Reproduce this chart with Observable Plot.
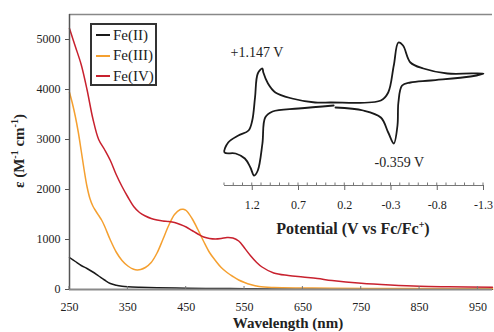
<!DOCTYPE html>
<html><head><meta charset="utf-8">
<script src="https://cdn.jsdelivr.net/npm/d3@7"></script>
<script src="https://cdn.jsdelivr.net/npm/@observablehq/plot@0.6"></script>
<style>
body{margin:0;background:#fff;}
#wrap{position:relative;width:494px;height:332px;overflow:hidden;font-family:"Liberation Serif",serif;background:#fff;}
#main{position:absolute;left:0;top:0;}
#inset{position:absolute;left:200px;top:20px;}
#legend{position:absolute;left:90px;top:23px;width:63px;height:59px;border:2px solid #333;background:#fff;}
.row{position:absolute;left:4px;height:18px;display:flex;align-items:center;font-size:15px;color:#222;white-space:nowrap;}
.sw{width:14px;height:2px;margin-right:3px;}
</style></head>
<body><div id="wrap"><div id="main"></div><div id="legend"></div><div id="inset"></div></div>
<script>
// ---- data ----
const series = ["Fe(II)", "Fe(III)", "Fe(IV)"];
const colors = ["#1a1a1a", "#f5a030", "#c8212e"];

const feIIWl  = [250,260,270,280,290,300,310,320,330,340,350,370,400,450,500,550,600,700,800,900,975];
const feIIEps = [640,560,480,420,350,270,190,120,85,65,55,45,35,25,20,15,10,8,6,5,5];

const feIIIWl  = [250,255,260,265,270,275,280,285,290,295,300,305,310,320,330,340,350,360,366,372,380,390,400,410,420,430,440,445,450,460,470,480,490,500,510,520,530,540,550,560,575,600,650,700,800,900,975];
const feIIIEps = [3940,3720,3460,3150,2780,2400,2060,1820,1670,1570,1480,1390,1270,990,750,580,470,405,392,400,440,540,730,1000,1280,1500,1600,1605,1580,1420,1200,960,740,580,440,340,260,190,140,100,60,40,30,25,20,15,15];

const feIVWl  = [250,260,270,280,290,300,310,320,330,340,350,360,370,380,390,400,410,420,430,440,450,460,470,480,490,500,510,520,530,540,550,560,570,580,600,625,650,675,700,750,800,850,900,975];
const feIVEps = [5220,4860,4500,4000,3420,3000,2800,2580,2300,2060,1850,1660,1540,1470,1420,1390,1370,1360,1340,1300,1250,1180,1110,1050,1020,1010,1020,1040,1030,970,830,680,550,450,330,280,250,220,180,125,90,65,55,45];

const xTicks = [250,350,450,550,650,750,850,950];
const yTicks = [0,1000,2000,3000,4000,5000];

// cyclic voltammogram (potential V, current arb. units)
const cvE = [0.30,0.00,-0.19,-0.27,-0.33,-0.37,-0.38,-0.42,-0.51,-0.73,-1.16,-1.30,
             -0.91,-0.65,-0.51,-0.43,-0.38,-0.33,-0.27,-0.19,0.36,0.52,0.77,0.95,1.03,1.08,1.09,1.14,1.17,1.20,1.24,1.35,1.46,1.50,
             1.38,1.28,1.22,1.18,1.14,1.09,1.06,0.98,0.70,0.32];
const cvI = [-0.4,-1.0,-2.4,-5.4,-7.6,-4.0,0.6,4.0,4.6,5.0,5.8,6.4,
             6.4,7.4,8.6,12.0,12.6,8.0,2.6,1.0,0.6,0.6,1.4,2.6,4.4,6.6,7.4,6.4,1.6,-3.0,-5.0,-6.0,-7.4,-9.4,
             -9.6,-10.6,-12.4,-14.0,-13.0,-7.6,-2.4,-1.2,-0.6,0.0];
const cvTicks = [1.2,0.7,0.2,-0.3,-0.8,-1.3];
const cvMinor = d3.range(15,-14,-1).map(d=>d/10);
const peakLabel = ["+1.147 V","-0.359 V"];
const labelE = [1.15,-0.39];
const labelI = [10.6,-11.4];

// ---- tables ----
const spectra = [];
[[feIIWl,feIIEps],[feIIIWl,feIIIEps],[feIVWl,feIVEps]].forEach(([w,e],k)=>
  w.forEach((x,j)=>spectra.push({wl:x, eps:e[j], s:series[k]})));
const cv = cvE.map((E,j)=>({E, i:cvI[j]}));
const labels = peakLabel.map((t,j)=>({t, E:labelE[j], i:labelI[j]}));

const font = '"Liberation Serif", serif';

// ---- main chart ----
const main = Plot.plot({
  width:494, height:332, marginLeft:69, marginRight:2, marginTop:14, marginBottom:43,
  style:{fontFamily:font, fontSize:"12px", color:"#222", background:"transparent", overflow:"visible"},
  x:{domain:[250,975]}, y:{domain:[0,5500]},
  color:{domain:series, range:colors},
  marks:[
    Plot.ruleY([5500], {stroke:"#888", strokeWidth:1.5}),
    Plot.line(spectra, {x:"wl", y:"eps", z:"s", stroke:"s", strokeWidth:1.5, curve:"catmull-rom"}),
    Plot.ruleY([0], {stroke:"#8a8a8a", strokeWidth:2}),
    Plot.ruleX([250], {stroke:"#555", strokeWidth:1.5}),
    Plot.axisX({ticks:xTicks, tickSize:0, tickPadding:13, label:null, tickFormat:d=>String(d)}),
    Plot.axisY({ticks:yTicks, tickSize:4, tickPadding:5, label:null, tickFormat:d=>String(d), stroke:"#555"})
  ]
});
document.getElementById("main").appendChild(main);
const ms = d3.select(main);
const sx = main.scale("x"), sy = main.scale("y");
ms.append("g").selectAll("line").data(xTicks).join("line")
  .attr("x1",d=>sx.apply(d)).attr("x2",d=>sx.apply(d))
  .attr("y1",sy.apply(0)-3).attr("y2",sy.apply(0)).attr("stroke","#777");
ms.append("text").attr("x",288).attr("y",328).attr("text-anchor","middle")
  .attr("font-weight","bold").attr("font-size",15).attr("fill","#222").attr("font-family",font)
  .text("Wavelength (nm)");
const yt = ms.append("text").attr("transform","translate(24,151) rotate(-90)").attr("text-anchor","middle")
  .attr("font-weight","bold").attr("font-size",15).attr("fill","#222").attr("font-family",font);
yt.append("tspan").text("ε (M");
yt.append("tspan").attr("dy",-6).attr("font-size",10).text("-1");
yt.append("tspan").attr("dy",6).text(" cm");
yt.append("tspan").attr("dy",-6).attr("font-size",10).text("-1");
yt.append("tspan").attr("dy",6).text(")");

// ---- legend ----
const lg = document.getElementById("legend");
series.forEach((s,k)=>{
  const r = document.createElement("div");
  r.className="row"; r.style.top=(1+k*20.5)+"px";
  r.innerHTML = `<span class="sw" style="background:${colors[k]}"></span><span>${s}</span>`;
  lg.appendChild(r);
});

// ---- inset CV ----
const inset = Plot.plot({
  width:294, height:220, marginLeft:24, marginRight:11, marginTop:5, marginBottom:55,
  style:{fontFamily:font, fontSize:"12px", color:"#222", background:"transparent", overflow:"visible"},
  x:{domain:[1.5,-1.3]}, y:{domain:[-16,16], axis:null},
  marks:[
    Plot.ruleY([-16], {stroke:"#777", strokeWidth:1.2}),
    Plot.line(cv, {x:"E", y:"i", stroke:"#1a1a1a", strokeWidth:1.8, curve:"catmull-rom"}),
    Plot.axisX({ticks:cvTicks, tickSize:5, tickPadding:10, label:null, tickFormat:d=>d.toFixed(1), stroke:"#666"}),
    Plot.text(labels, {x:"E", y:"i", text:"t", fontSize:14, fill:"#222"})
  ]
});
document.getElementById("inset").appendChild(inset);
const is = d3.select(inset);
const ix = inset.scale("x"), iy = inset.scale("y");
is.append("g").selectAll("line").data(cvMinor).join("line")
  .attr("x1",d=>ix.apply(d)).attr("x2",d=>ix.apply(d))
  .attr("y1",iy.apply(-16)-2.5).attr("y2",iy.apply(-16)).attr("stroke","#777");
const pt = is.append("text").attr("x",153).attr("y",214).attr("text-anchor","middle")
  .attr("font-weight","bold").attr("font-size",16).attr("fill","#222").attr("font-family",font);
pt.append("tspan").text("Potential (V vs Fc/Fc");
pt.append("tspan").attr("dy",-6).attr("font-size",10).text("+");
pt.append("tspan").attr("dy",6).text(")");
</script></body></html>
